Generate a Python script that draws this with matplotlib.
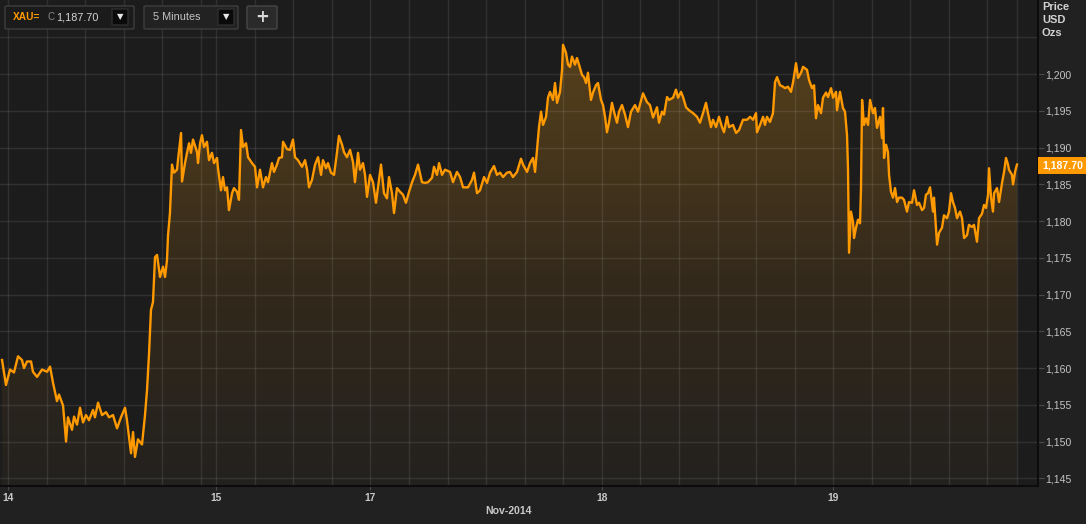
import numpy as np
import matplotlib
matplotlib.use("Agg")
import matplotlib.pyplot as plt
from matplotlib.patches import FancyBboxPatch, Rectangle
from matplotlib.colors import LinearSegmentedColormap

plt.rcParams['font.family'] = ['Liberation Sans', 'DejaVu Sans']

# ---------------- data ----------------
# compressed trading-time axis (hours since 14 Nov 00:00, weekend gap removed)
hours = [
    -0.62, -0.21, 0.21, 0.62, 1.04, 1.45, 1.66, 1.97, 2.39, 2.59, 3.01, 3.53, 4.05, 4.36, 4.67, 5.08,
    5.29, 5.71, 6.02, 6.22, 6.64, 6.85, 7.16, 7.47, 7.78, 8.09, 8.40, 8.82, 9.02, 9.34, 9.75, 10.17,
    10.48, 10.89, 11.31, 11.72, 12.14, 12.34, 12.76, 12.97, 13.17, 13.48,
    13.90, 14.21, 14.42, 14.63, 14.83, 15.04, 15.25, 15.46, 15.77, 16.08, 16.29, 16.49, 16.60, 16.80,
    17.01, 17.22, 17.53, 17.63, 17.95, 18.05, 18.36, 18.57, 18.78, 18.98, 19.19, 19.61, 19.71, 19.92,
    20.12, 20.33, 20.64, 20.85, 21.16, 21.37, 21.68, 21.78, 22.09, 22.30, 22.51, 22.72, 22.92, 23.24,
    23.44, 23.75, 23.96, 24.17, 24.38, 24.69, 24.90, 25.31, 25.62, 25.83, 26.14, 26.45, 26.76, 26.97,
    27.38, 27.59, 27.90, 28.11, 28.42, 28.53, 28.94,
    29.25, 29.56, 29.77, 30.08, 30.50, 30.81, 31.02, 31.22, 31.53, 31.85, 32.16, 32.47, 32.67, 32.99,
    33.19, 33.50, 33.82, 34.13, 34.33, 34.65, 34.85, 35.16, 35.48, 35.79, 35.99, 36.31, 36.51, 36.82,
    37.03, 37.24, 37.55, 37.86, 38.17, 38.38, 38.69, 39.00, 39.31, 39.52, 39.83, 40.04, 40.35, 40.66,
    40.97, 41.28, 41.60, 41.91, 42.22, 42.53, 42.94, 43.26, 43.57, 43.98, 44.19, 44.50, 44.71, 45.02,
    45.33, 45.85, 46.16, 46.57,
    46.89, 47.20, 47.72, 48.13, 48.34, 48.65, 48.96, 49.38, 49.69, 50.00, 50.41, 50.72, 51.04, 51.35,
    51.76, 52.07, 52.38, 52.80, 53.21, 53.42, 53.84, 54.15, 54.46, 54.67, 54.87, 55.08, 55.29, 55.50,
    55.81, 56.01, 56.22, 56.53, 56.74, 56.95, 57.26, 57.47, 57.57, 57.88, 58.09, 58.30, 58.50, 58.81,
    59.02, 59.23, 59.54, 59.75, 59.96, 60.16, 60.47, 60.68, 60.99, 61.20, 61.51, 61.72, 61.93, 62.13,
    62.34, 62.65, 62.86, 63.17, 63.38, 63.69, 64.00, 64.31,
    64.62, 65.04, 65.35, 65.87, 66.28, 66.59, 66.91, 67.32, 67.53, 67.84, 68.05, 68.36, 68.57, 68.98,
    69.29, 69.50, 69.81, 70.02, 70.33, 70.64, 71.06, 71.47, 71.78, 72.09, 72.40, 72.61, 72.92, 73.13,
    73.44, 73.75, 74.06, 74.27, 74.58, 74.79, 75.20, 75.52, 75.83, 76.24, 76.66, 76.97, 77.28, 77.59,
    77.69, 78.01, 78.32, 78.52, 78.73, 79.04, 79.35, 79.56, 79.77, 80.08, 80.39, 80.60, 80.91, 81.22,
    81.43, 81.74, 81.95,
    82.26, 82.47, 82.88, 83.09, 83.40, 83.61, 83.81, 84.02, 84.33, 84.54, 84.85, 85.06, 85.37, 85.58,
    85.89, 85.99, 86.30, 86.61, 86.82, 87.03, 87.13, 87.24, 87.44, 87.65, 87.76, 87.96, 88.17, 88.38,
    88.48, 88.59, 88.79, 89.00, 89.21, 89.42, 89.73, 89.93, 90.14, 90.45, 90.66, 90.76, 90.87, 91.08,
    91.28, 91.39, 91.59, 91.80, 92.01, 92.22, 92.42, 92.73, 92.94, 93.25, 93.46, 93.77, 93.98, 94.29,
    94.50, 94.81, 95.02, 95.22, 95.43, 95.64, 95.95, 96.05, 96.37, 96.57, 96.88, 97.09, 97.40, 97.61,
    97.82, 98.02, 98.23, 98.44, 98.75, 98.96, 99.17, 99.48, 99.68, 99.99, 100.20, 100.51, 100.72,
    101.03, 101.24, 101.45, 101.66, 101.76, 101.97, 102.17, 102.28, 102.59, 102.80, 103.11, 103.32,
    103.52, 103.73, 103.83, 104.14, 104.25, 104.46, 104.66,
]
prices = [
    1161.1, 1157.7, 1159.8, 1159.4, 1161.6, 1161.1, 1160.0, 1160.9, 1160.9, 1159.5, 1158.8, 1159.8, 1159.5, 1160.2, 1158.0, 1155.5,
    1156.4, 1154.9, 1150.0, 1153.3, 1151.6, 1153.4, 1152.3, 1154.6, 1152.6, 1153.6, 1152.9, 1154.3, 1153.3, 1155.3, 1153.6, 1154.0,
    1153.3, 1153.6, 1151.8, 1153.3, 1154.6, 1152.9, 1148.4, 1151.3, 1147.9, 1150.3,
    1149.6, 1153.6, 1157.0, 1162.0, 1167.9, 1169.0, 1175.1, 1175.4, 1172.4, 1173.8, 1172.4, 1174.7, 1178.1, 1181.1,
    1187.7, 1186.6, 1187.0, 1188.3, 1192.0, 1185.4, 1187.9, 1189.3, 1190.6, 1189.3, 1191.1, 1189.4, 1187.9, 1190.6,
    1191.7, 1190.1, 1190.8, 1188.3, 1189.3, 1187.9, 1188.6, 1187.2, 1184.2, 1186.0, 1184.2, 1184.6, 1181.5, 1183.8,
    1184.5, 1184.0, 1182.9, 1192.4, 1190.1, 1190.6, 1188.7, 1187.9, 1187.4, 1184.6, 1187.0, 1184.6, 1186.0, 1185.3,
    1187.9, 1186.7, 1187.7, 1188.6, 1188.7, 1190.8, 1189.8,
    1189.7, 1191.1, 1188.7, 1188.3, 1187.4, 1188.3, 1187.0, 1184.6, 1185.6, 1187.7, 1188.7, 1186.3, 1188.3, 1187.2,
    1187.9, 1186.6, 1186.3, 1189.4, 1191.6, 1190.4, 1189.4, 1188.7, 1189.7, 1188.0, 1185.3, 1189.3, 1187.0, 1187.9,
    1186.3, 1183.3, 1186.3, 1185.3, 1182.5, 1184.6, 1187.7, 1183.8, 1183.1, 1186.0, 1183.8, 1181.1, 1184.5, 1184.0,
    1183.6, 1182.5, 1184.0, 1185.3, 1186.3, 1187.7, 1185.3, 1185.2, 1185.3, 1185.9, 1187.4, 1186.3, 1187.9, 1186.3,
    1187.0, 1186.7, 1185.3, 1186.7,
    1186.0, 1184.6, 1184.6, 1185.6, 1186.6, 1183.8, 1184.2, 1186.0, 1185.2, 1186.6, 1187.5, 1186.3, 1186.6, 1186.0,
    1186.6, 1186.7, 1186.0, 1186.7, 1188.5, 1187.7, 1186.7, 1187.9, 1188.6, 1186.7, 1189.7, 1192.8, 1194.9, 1193.1,
    1194.2, 1196.8, 1197.6, 1196.5, 1198.8, 1196.1, 1197.6, 1200.6, 1204.0, 1202.9, 1201.3, 1201.0, 1202.4, 1201.3,
    1202.2, 1201.3, 1199.9, 1199.6, 1198.8, 1200.2, 1196.5, 1197.5, 1198.5, 1198.8, 1196.5, 1195.8, 1194.2, 1192.1,
    1193.4, 1196.1, 1194.9, 1193.4, 1194.9, 1195.8, 1194.5, 1192.8,
    1194.9, 1195.8, 1194.9, 1197.4, 1196.2, 1195.8, 1194.1, 1195.5, 1193.4, 1194.9, 1194.5, 1196.9, 1196.5, 1196.8,
    1197.9, 1196.8, 1197.6, 1196.9, 1195.5, 1195.1, 1194.7, 1194.2, 1193.4, 1194.7, 1196.1, 1194.7, 1192.8, 1193.8,
    1192.8, 1194.2, 1192.8, 1192.1, 1194.2, 1192.8, 1193.1, 1192.0, 1192.4, 1193.8, 1193.8, 1194.2, 1193.8, 1194.7,
    1192.1, 1193.1, 1194.2, 1193.1, 1194.2, 1193.5, 1194.7, 1198.9, 1199.6, 1198.5, 1198.3, 1198.1, 1198.3, 1197.6,
    1198.9, 1201.5, 1199.5,
    1200.2, 1201.0, 1200.6, 1199.2, 1198.1, 1198.5, 1194.0, 1195.8, 1194.7, 1196.8, 1197.5, 1196.9, 1198.1, 1196.8,
    1197.6, 1195.1, 1197.6, 1195.4, 1194.9, 1191.7, 1187.2, 1175.7, 1181.3, 1179.9, 1177.7, 1179.1, 1180.2, 1179.7,
    1184.5, 1196.5, 1193.1, 1194.0, 1193.1, 1196.5, 1194.7, 1195.4, 1192.7, 1194.2, 1191.3, 1195.4, 1188.6, 1190.4,
    1189.4, 1186.3, 1184.0, 1183.2, 1184.5, 1182.6, 1183.2, 1183.2, 1182.9, 1181.3, 1182.6, 1182.5, 1184.2, 1182.2,
    1182.5, 1181.5, 1181.8, 1183.6, 1183.8, 1184.6, 1181.3, 1183.2, 1176.8, 1178.4, 1179.1, 1180.8, 1180.4, 1181.3,
    1183.8, 1182.6, 1181.8, 1180.4, 1181.3, 1180.4, 1177.7, 1178.1, 1179.5, 1179.2, 1179.5, 1177.2, 1180.4,
    1181.0, 1182.2, 1181.8, 1183.6, 1187.2, 1183.2, 1181.3, 1183.8, 1184.5, 1182.6, 1185.2, 1186.7,
    1188.6, 1187.7, 1187.0, 1186.3, 1185.0, 1186.7, 1187.7,
]

day_labels = ["14", "15", "17", "18", "19"]
day_hours = [0.0, 21.6, 37.6, 61.6, 85.6]
grid_hours = [0, 4, 8, 12, 16, 20] + [21.6 + 4 * k for k in range(21)]
price_ticks = list(range(1145, 1201, 5))
price_grid = list(range(1145, 1206, 5))
last_price = 1187.70
symbol = "XAU="
interval = "5 Minutes"
month_label = "Nov-2014"
axis_title = ["Price", "USD", "Ozs"]

# ---------------- figure ----------------
W, H = 1086, 524
fig = plt.figure(figsize=(W / 100, H / 100), dpi=100, facecolor="#212121")


def fx(px):
    return px / W


def fy(py):
    return 1 - py / H


ax = fig.add_axes([0, fy(486), fx(1038), 486 / H])
ax.set_facecolor("#1c1c1c")

x0, x1 = -0.83, 106.84
y0, y1 = 1143.95, 1210.1

# gradient fill under the line
poly = ax.fill_between(hours, prices, y0, color="none", lw=0)
cmap = LinearSegmentedColormap.from_list(
    "g", [(0, "#23211f"), (0.45, "#33291b"), (1.0, "#57411c")])
grad = np.linspace(0, 1, 256).reshape(-1, 1)
im = ax.imshow(grad, extent=[hours[0], hours[-1], y0, 1205], origin="lower",
               aspect="auto", cmap=cmap, zorder=1, interpolation="bilinear")
im.set_clip_path(poly.get_paths()[0], transform=ax.transData)

# grid
for h in grid_hours:
    ax.axvline(h, color="#ffffff", alpha=0.09, lw=1, zorder=2)
for p in price_grid:
    ax.axhline(p, color="#ffffff", alpha=0.09, lw=1, zorder=2)
ax.axvline(hours[-1], color="#ffffff", alpha=0.09, lw=1, zorder=2)

ax.plot(hours, prices, color="#ff9900", lw=1.7, zorder=4, solid_joinstyle="round")

ax.set_xlim(x0, x1)
ax.set_ylim(y0, y1)

for s in ["left", "top"]:
    ax.spines[s].set_visible(False)
for s in ["right", "bottom"]:
    ax.spines[s].set_color("#0c0c0c")
    ax.spines[s].set_linewidth(1.5)

ax.yaxis.tick_right()
ax.set_yticks(price_ticks)
ax.set_yticklabels([f"{p:,}" for p in price_ticks])
ax.tick_params(axis="y", colors="#4a4a4a", length=4, pad=1, labelsize=7.6,
               labelcolor="#c4c4c4")
ax.set_xticks(day_hours)
ax.set_xticklabels(day_labels, fontweight="bold")
ax.tick_params(axis="x", colors="#4a4a4a", length=3, pad=2, labelsize=7.4,
               labelcolor="#c8c8c8")

fig.text(fx(509), fy(511), month_label, ha="center", va="center",
         fontsize=7.6, fontweight="bold", color="#c8c8c8")

for t, py in zip(axis_title, [7, 20, 33]):
    fig.text(fx(1042), fy(py), t, ha="left", va="center", fontsize=8,
             fontweight="bold", color="#d2d2d2")

# current price tag
fig.patches.append(Rectangle((fx(1038), fy(174)), fx(48), 17 / H,
                             transform=fig.transFigure, facecolor="#ff9900",
                             edgecolor="none", zorder=5))
fig.text(fx(1042), fy(165.5), f"{last_price:,.2f}", ha="left", va="center",
         fontsize=7.6, fontweight="bold", color="#ffffff", zorder=6)


# toolbar
def box(x, y, w, h, fc, ec, r=2):
    fig.patches.append(FancyBboxPatch(
        (fx(x), fy(y + h)), fx(w), h / H,
        boxstyle=f"round,pad=0,rounding_size={r / W}",
        transform=fig.transFigure, facecolor=fc, edgecolor=ec, lw=1, zorder=5))


box(5, 6, 129, 23, "#1b1b1b", "#3e3e3e")
box(144, 6, 94, 23, "#222222", "#3e3e3e")
box(247, 6, 30, 23, "#2a2a2a", "#464646")
box(112, 9, 16, 16, "#0a0a0a", "#2e2e2e", 1)
box(218, 9, 16, 16, "#0a0a0a", "#2e2e2e", 1)

fig.text(fx(13), fy(17.5), symbol, ha="left", va="center", fontsize=7.3,
         fontweight="bold", color="#ff9900", zorder=6)
fig.text(fx(47), fy(17.5), "C", ha="left", va="center", fontsize=7,
         color="#8a8a8a", zorder=6)
fig.text(fx(56), fy(17.5), f"{last_price:,.2f}", ha="left", va="center",
         fontsize=7.8, color="#d4d4d4", zorder=6)
fig.text(fx(153), fy(17.5), interval, ha="left", va="center", fontsize=7.8,
         color="#c4c4c4", zorder=6)
for bx in [120, 226]:
    fig.text(fx(bx), fy(16.5), "▼", ha="center", va="center", fontsize=6,
             color="#e8e8e8", family=["DejaVu Sans"], zorder=6)
fig.text(fx(262), fy(17), "+", ha="center", va="center", fontsize=12,
         fontweight="bold", color="#d8d8d8", family=["DejaVu Sans"], zorder=6)

fig.savefig("out.png", dpi=100, facecolor=fig.get_facecolor())
